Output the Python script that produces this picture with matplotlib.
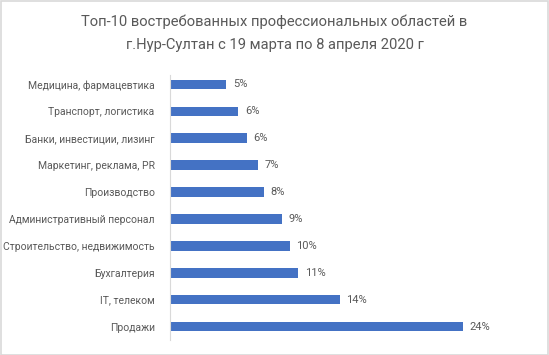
import matplotlib.pyplot as plt
from matplotlib.patches import Rectangle

plt.rcParams['font.family'] = ['Roboto', 'DejaVu Sans']

categories = ['Медицина, фармацевтика', 'Транспорт, логистика', 'Банки, инвестиции, лизинг',
              'Маркетинг, реклама, PR', 'Производство', 'Административный персонал',
              'Строительство, недвижимость', 'Бухгалтерия', 'IT, телеком', 'Продажи']
shares = [4.6, 5.6, 6.3, 7.2, 7.7, 9.2, 9.8, 10.5, 13.9, 24.0]
labels = ['5%', '6%', '6%', '7%', '8%', '9%', '10%', '11%', '14%', '24%']

W, H = 549, 355
fig = plt.figure(figsize=(W / 100, H / 100), dpi=100)
fig.patches.append(Rectangle((0.5 / W, 0.5 / H), 1 - 1.5 / W, 1 - 1.5 / H, transform=fig.transFigure,
                             fill=False, edgecolor='#d9d9d9', linewidth=1.2))

ax = fig.add_axes([170 / W, 1 - 340 / H, 366 / W, 269 / H])
y = list(range(len(categories)))[::-1]
ax.barh(y, shares, height=0.36, color='#4472C4')
for yi, v, lab in zip(y, shares, labels):
    ax.text(v + 0.55, yi, lab, va='center', ha='left', fontsize=8, color='#595959')

ax.set_xlim(0, 30)
ax.set_ylim(-0.5, len(categories) - 0.5)
ax.set_yticks(y)
ax.set_yticklabels(categories, fontsize=7.5, color='#595959')
ax.tick_params(axis='y', length=0, pad=11)
ax.set_xticks([])
for s in ['top', 'right', 'bottom']:
    ax.spines[s].set_visible(False)
ax.spines['left'].set_color('#d9d9d9')
ax.spines['left'].set_bounds(-0.5, 9.35)

fig.text(0.5, 1 - 22 / H, 'Топ-10 востребованных профессиональных областей в', ha='center', va='center',
         fontsize=10.6, color='#595959')
fig.text(0.5, 1 - 45 / H, 'г.Нур-Султан с 19 марта по 8 апреля 2020 г', ha='center', va='center',
         fontsize=10.6, color='#595959')

fig.savefig('out.png', dpi=100)
